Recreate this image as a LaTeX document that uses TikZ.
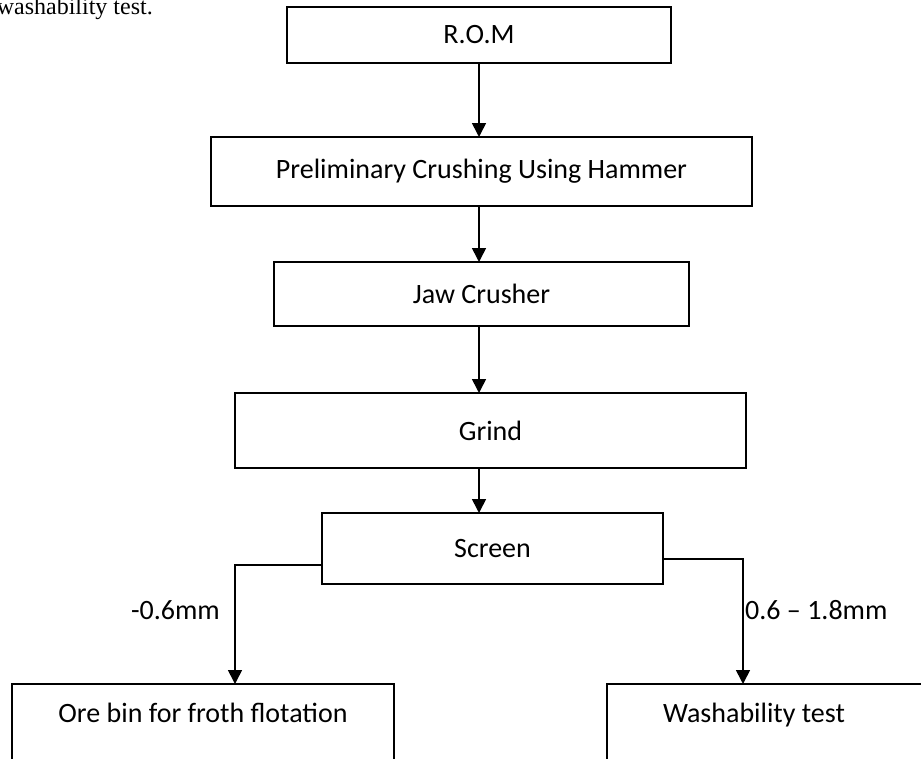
\documentclass[tikz,border=0pt]{standalone}
\usepackage{fontspec}
\setmainfont{Carlito}
\newfontfamily\serifTNR{Liberation Serif}
\usetikzlibrary{arrows.meta,calc}
\begin{document}
\begin{tikzpicture}[x=1pt,y=-1pt,
  box/.style={draw, line width=1.6pt, inner sep=0pt, outer sep=0pt, font=\fontsize{28}{34}\selectfont},
  lbl/.style={inner sep=0pt, font=\fontsize{28}{34}\selectfont},
  arr/.style={line width=1.6pt, -{Triangle[length=14pt,width=14pt]}}]
\useasboundingbox (0,0) rectangle (921,758);
\clip (0,0) rectangle (921,758);
\node[anchor=base east, inner sep=0pt, font=\serifTNR\fontsize{24}{28}\selectfont] (cap) at (153,14) {washability test.};
\node[box, minimum width=384pt, minimum height=56pt] (rom) at (479,35) {R.O.M};
\node[box, minimum width=541pt, minimum height=69pt] (prelim) at (481.5,171.5) {Preliminary Crushing Using Hammer};
\node[box, minimum width=415pt, minimum height=64pt] (jaw) at (481.5,294) {Jaw Crusher};
\node[box, minimum width=511pt, minimum height=75pt] (grind) at (490.5,430.5) {Grind};
\node[box, minimum width=341pt, minimum height=71pt] (screen) at (492.5,548.5) {Screen};
\node[box, minimum width=382pt, minimum height=140pt, anchor=north west] (ore) at (12,684) {};
\node[lbl, anchor=base] (oret) at (203,722) {Ore bin for froth flotation};
\node[box, minimum width=360pt, minimum height=140pt, anchor=north west] (wash) at (607,684) {};
\node[lbl, anchor=base] (washt) at (754,722) {Washability test};
\coordinate (oreIn) at (235,684);
\coordinate (washIn) at (743,684);
\draw[arr] (rom.south) -- (rom.south |- prelim.north);
\draw[arr] (rom.south |- prelim.south) -- (rom.south |- jaw.north);
\draw[arr] (rom.south |- jaw.south) -- (rom.south |- grind.north);
\draw[arr] (rom.south |- grind.south) -- (rom.south |- screen.north);
\draw[arr] ($(screen.north west)+(0,52)$) -| (oreIn);
\draw[arr] ($(screen.north east)+(0,46)$) -| (washIn);
\node[lbl, anchor=east] (lm) at (220,610) {-0.6mm};
\node[lbl, anchor=west] (rm) at (745,610) {0.6 – 1.8mm};
\end{tikzpicture}
\end{document}
